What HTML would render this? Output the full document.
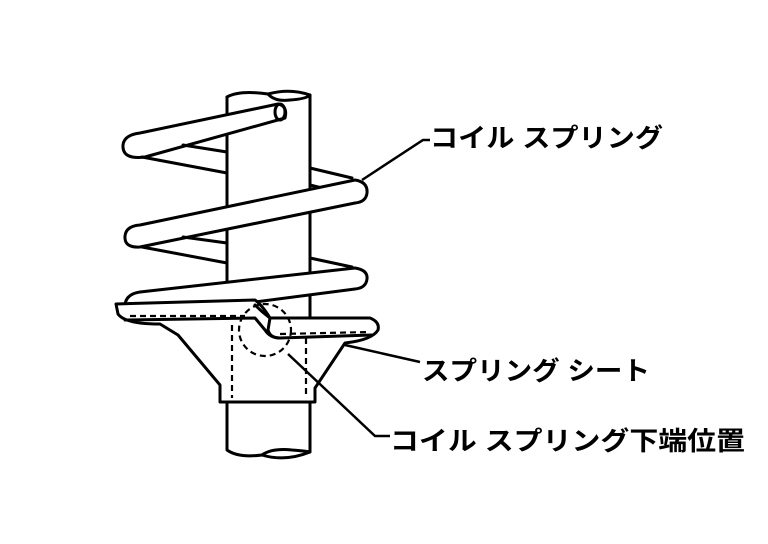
<!DOCTYPE html>
<html><head><meta charset="utf-8"><style>
html,body{margin:0;padding:0;background:#fff;width:768px;height:544px;overflow:hidden}
text{font-family:"Liberation Sans","Noto Sans CJK JP",sans-serif;font-weight:bold;font-size:26px;fill:#000}
</style></head><body>
<svg width="768" height="544" viewBox="0 0 768 544" xmlns="http://www.w3.org/2000/svg">
<g fill="none" stroke="#000" stroke-width="3" stroke-linejoin="round" stroke-linecap="round">
<path d="M227,97 Q240,90 268,94 Q290,88 310,95 L310,402"/>
<path d="M227,97 L227,402"/>
<path d="M268,94 Q275,102 290,100 Q306,99 310,95"/>
<path d="M227,402 L227,450 Q238,458 262,455 Q285,462 310,452 L310,402"/>
<path d="M262,455 Q272,448 292,450 Q305,451 310,452"/>
<path d="M140,133 L278,104 Q288,106 285,118 L145,157 Q122,160 123,145 Q124,135 140,133Z" fill="#fff"/>
<ellipse cx="280" cy="112" rx="5" ry="8"/>
<path d="M142,157 L227,173 M183,145 L227,152"/>
<path d="M310,168 L352,178 M310,185 L330,190"/>
<path d="M140,225 L355,180 Q368,182 367,193 Q366,202 355,203 L140,247 Q124,248 125,236 Q126,226 140,225Z" fill="#fff"/>
<path d="M142,247 L227,263 M183,237 L227,243"/>
<path d="M310,258 L352,267"/>
<path d="M140,292 L355,268 Q368,270 367,279 Q366,288 355,289 L140,317 Q124,316 125,305 Q126,294 140,292Z" fill="#fff"/>
<path d="M116,304 L255,300 Q262,305 270,318 L370,318 Q380,322 378,330 Q372,340 345,343 L315,388 L315,402 L220,402 L220,385 L178,335 L160,324 Q125,324 118,314 Z" fill="#fff"/>
<path d="M125,320 L255,318 L265,330 Q270,338 280,338 L372,335"/>
<path d="M270,318 L268,330 Q270,338 280,338"/>
<path d="M270,318 Q262,312 255,305" />
</g>
<g fill="none" stroke="#000" stroke-width="2.2" stroke-dasharray="6,4">
<path d="M130,316 L245,316 M280,334 L370,332"/>
<path d="M232,325 L232,398 M306,338 L306,398"/>
<circle cx="265" cy="330" r="26"/>
</g>
<g fill="none" stroke="#000" stroke-width="2.5">
<path d="M362,180 L423,140 L430,140"/>
<path d="M345,345 L420,362"/>
<path d="M288,354 L375,436 L390,436"/>
</g>
<text x="430" y="147" textLength="233" lengthAdjust="spacingAndGlyphs">コイル スプリング</text>
<text x="422" y="380" textLength="228" lengthAdjust="spacingAndGlyphs">スプリング シート</text>
<text x="390" y="450" textLength="355" lengthAdjust="spacingAndGlyphs">コイル スプリング下端位置</text>
</svg>
</body></html>
